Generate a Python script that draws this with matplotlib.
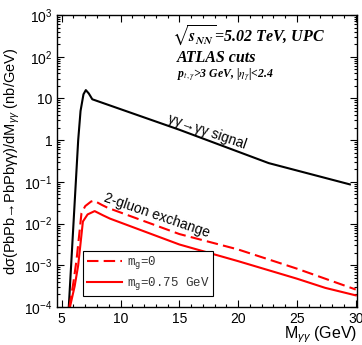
import matplotlib as mpl
mpl.use('Agg')
import matplotlib.pyplot as plt
from matplotlib.ticker import FixedLocator, FixedFormatter, LogLocator, MultipleLocator, NullFormatter
import numpy as np

plt.rcParams['font.family'] = ['Liberation Sans', 'DejaVu Sans']
plt.rcParams['mathtext.fontset'] = 'custom'
plt.rcParams['mathtext.rm'] = 'Liberation Sans'
plt.rcParams['mathtext.it'] = 'Liberation Sans:italic'
plt.rcParams['mathtext.bf'] = 'Liberation Sans:bold'

# values (x in GeV, y as log10 of nb/GeV)
m_signal = [5.6, 5.9, 6.2, 6.4, 6.6, 6.85, 7.05, 7.3, 7.6, 15.0, 22.6, 29.5]
log_signal = [-4.0, -2.5, -1.0, 0.0, 0.7, 1.1, 1.2, 1.12, 0.98, 0.25, -0.55, -1.06]

m_gluon0 = [5.65, 6.0, 6.26, 6.68, 7.0, 7.5, 7.75, 8.4, 8.9, 15.0, 20.0, 25.0, 30.0]
log_gluon0 = [-4.0, -3.4, -2.87, -1.75, -1.58, -1.47, -1.45, -1.55, -1.62, -2.25, -2.62, -3.08, -3.58]

m_gluon075 = [5.7, 6.1, 6.4, 6.8, 7.2, 7.8, 8.5, 9.1, 15.0, 20.0, 25.0, 27.4, 30.0]
log_gluon075 = [-4.0, -3.5, -3.0, -1.95, -1.78, -1.70, -1.80, -1.88, -2.50, -2.90, -3.32, -3.54, -3.72]

ytick_vals = [1e-4, 1e-3, 1e-2, 1e-1, 1, 10, 1e2, 1e3]
ytick_labels = [r'$10^{-4}$', r'$10^{-3}$', r'$10^{-2}$', r'$10^{-1}$', '1', '10', r'$10^{2}$', r'$10^{3}$']
xtick_vals = [5, 10, 15, 20, 25, 30]

fig = plt.figure(figsize=(3.62, 3.45), dpi=100)
ax = fig.add_axes([0.1575, 0.110, 0.8285, 0.8465])

ax.plot(m_signal, 10 ** np.array(log_signal), color='black', lw=1.5)
ax.plot(m_gluon0, 10 ** np.array(log_gluon0), color='#ff0000', lw=1.5,
        dashes=(5.5, 2.5), label=r'm$_\mathtt{g}$=0')
ax.plot(m_gluon075, 10 ** np.array(log_gluon075), color='#ff0000', lw=1.5,
        label=r'm$_\mathtt{g}$=0.75 GeV')

ax.set_yscale('log')
ax.set_xlim(4.6, 30.1)
ax.set_ylim(1e-4, 1e3)

ax.yaxis.set_major_locator(FixedLocator(ytick_vals))
ax.yaxis.set_major_formatter(FixedFormatter(ytick_labels))
ax.yaxis.set_minor_locator(LogLocator(base=10, subs=np.arange(2, 10), numticks=20))
ax.yaxis.set_minor_formatter(NullFormatter())
ax.xaxis.set_major_locator(FixedLocator(xtick_vals))
ax.xaxis.set_minor_locator(MultipleLocator(1))

ax.tick_params(which='both', direction='in', top=True, right=True, labelsize=10, width=0.8)
ax.tick_params(which='major', length=5)
ax.tick_params(which='minor', length=2.5)
for s in ax.spines.values():
    s.set_linewidth(1.0)

ax.set_ylabel('dσ(PbPb→PbPbγγ)/dM' + r'$_{\gamma\gamma}$' + ' (nb/GeV)',
              fontsize=10.5, labelpad=1)
ax.set_xlabel(r'M$_{\gamma\gamma}$ (GeV)', fontsize=11.5)
ax.xaxis.set_label_coords(1.0, -0.06)
ax.xaxis.label.set_horizontalalignment('right')

# header text
ax.text(0.385, 0.93, r'$\sqrt{\boldsymbol{s}_{\boldsymbol{NN}}}$=5.02 TeV, UPC', transform=ax.transAxes,
        fontsize=11.5, family='Liberation Serif', weight='bold', style='italic',
        math_fontfamily='stix', va='center')
ax.text(0.40, 0.853, 'ATLAS cuts', transform=ax.transAxes,
        fontsize=11.5, family='Liberation Serif', weight='bold', style='italic', va='center')
ax.text(0.40, 0.795, r'p$_{t,\gamma}$>3 GeV, |$\eta_\gamma$|<2.4', transform=ax.transAxes,
        fontsize=8.5, family='Liberation Serif', weight='bold', style='italic',
        math_fontfamily='stix', va='center')

ax.text(17.4, 1.6, 'γγ→γγ signal', fontsize=10,
        rotation=-19, ha='center', va='center', rotation_mode='anchor')
ax.text(13.1, 0.016, '2-gluon exchange', fontsize=10,
        rotation=-19, ha='center', va='center', rotation_mode='anchor')

leg = ax.legend(loc='lower left', bbox_to_anchor=(0.087, 0.038), borderaxespad=0,
                prop={'family': 'Liberation Mono', 'size': 9}, fancybox=False,
                edgecolor='black', framealpha=1, handlelength=2.8, handletextpad=0.4,
                borderpad=0.3, labelspacing=0.3)
leg.get_frame().set_linewidth(0.8)
for t in leg.get_texts():
    t.set_color('#333333')

fig.savefig('out.png', dpi=100)
